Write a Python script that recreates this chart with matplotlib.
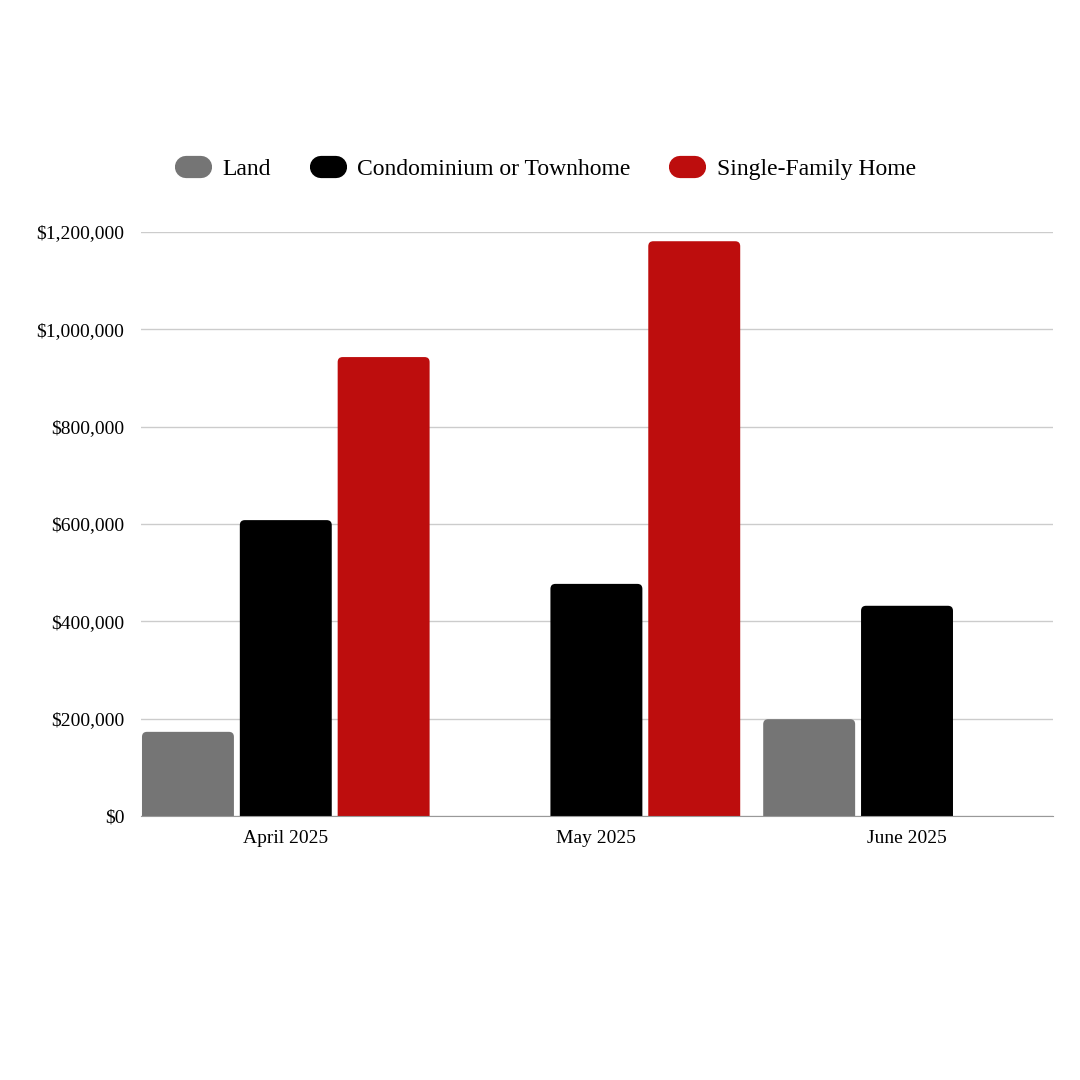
import matplotlib
matplotlib.use("Agg")
import matplotlib.pyplot as plt
from matplotlib.patches import FancyBboxPatch
from matplotlib.lines import Line2D
from matplotlib.ticker import FuncFormatter
import numpy as np

plt.rcParams['font.family'] = ['Liberation Serif', 'DejaVu Serif']

months = ["April 2025", "May 2025", "June 2025"]
series = ["Land", "Condominium or Townhome", "Single-Family Home"]
land = [173000, 0, 199000]
condo = [608000, 477000, 432000]
single_family = [943000, 1181000, 0]
colors = ["#757575", "#000000", "#bd0d0d"]

fig = plt.figure(figsize=(10.8, 10.8), dpi=100)
ax = fig.add_axes([0.1306, 0.2444, 0.8444, 0.5408])

x = np.arange(len(months))
width = 0.296
step = 0.315
values = [land, condo, single_family]

ax.set_xlim(-0.466, 2.47)
ax.set_ylim(0, 1200000)

# pixel -> data conversions for rounded corners
px_x = 1 / 311.0
px_y = 1200000 / 584.0
r = 5 * px_x
aspect = (5 * px_y) / r

for i, (vals, c) in enumerate(zip(values, colors)):
    bars = ax.bar(x + (i - 1) * step, vals, width, color=c, label=series[i])
    for b in bars:
        h = b.get_height()
        if h <= 0:
            b.remove()
            continue
        bx, w = b.get_x(), b.get_width()
        b.remove()
        p = FancyBboxPatch((bx, -10 * px_y), w, h + 10 * px_y,
                           boxstyle=f"round,pad=0,rounding_size={r}",
                           mutation_aspect=aspect, facecolor=c,
                           edgecolor="none", zorder=3)
        ax.add_patch(p)

ax.set_xticks(x)
ax.set_xticklabels(months, fontsize=14)
ax.set_yticks(np.arange(0, 1200001, 200000))
ax.yaxis.set_major_formatter(FuncFormatter(lambda v, _: f"${v:,.0f}"))
ax.tick_params(axis='y', labelsize=14, length=0, pad=12)
ax.tick_params(axis='x', length=0, pad=10)
ax.grid(axis='y', color="#cccccc", linewidth=1)
ax.set_axisbelow(True)
for s in ["top", "right", "left"]:
    ax.spines[s].set_visible(False)
ax.spines["bottom"].set_color("#999999")
ax.spines["bottom"].set_zorder(4)

handles = [Line2D([0], [0], color=c, linewidth=16, solid_capstyle='round')
           for c in colors]
fig.legend(handles, series, loc="center", bbox_to_anchor=(0.51, 0.843),
           ncol=3, frameon=False, fontsize=17, handlelength=0.65,
           handletextpad=0.9, columnspacing=2.1)

fig.savefig("out.png", dpi=100, facecolor="white")
